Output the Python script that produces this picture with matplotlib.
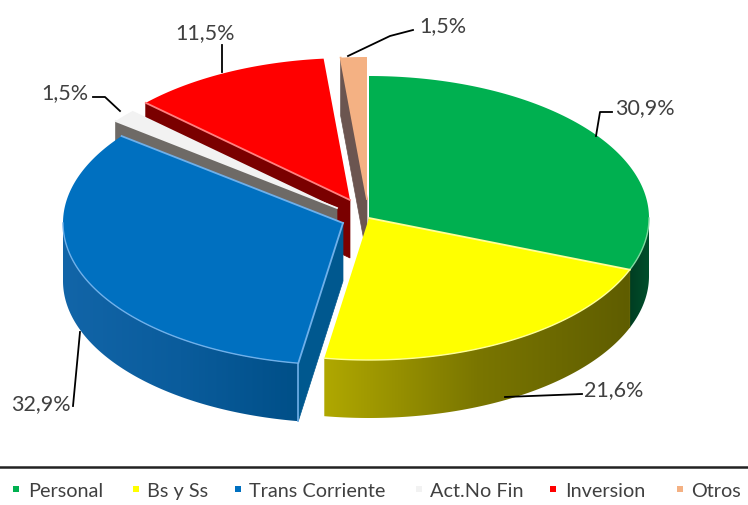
import numpy as np
import matplotlib
matplotlib.use("Agg")
import matplotlib.pyplot as plt
from matplotlib.colors import LinearSegmentedColormap
from matplotlib.patches import Polygon

categories = ["Personal", "Bs y Ss", "Trans Corriente", "Act.No Fin", "Inversion", "Otros"]
values = [30.9, 21.6, 32.9, 1.5, 11.5, 1.5]

top_colors = ["#00B050", "#FFFF00", "#0070C0", "#F2F2F2", "#FF0000", "#F4B183"]
edge_colors = ["#7FD8A0", "#FFFF99", "#6FB0EA", "#F2F2F2", "#FF8080", "#F4B183"]
wall_colors = ["#006030", "#6E6E00", "#00588F", "#6E6A66", "#7A0000", "#6B5550"]
side_colors = [["#003D22", "#00502C"], ["#B0A800", "#7A7600", "#5F5D00"],
               ["#1265A8", "#0A5C9C", "#004F88"], ["#6E6A66"] * 2, ["#7A0000"] * 2, ["#6B5550"] * 2]
offsets = [(0, 0), (0, 0), (-26, 5), (-32, -10), (-19, -18), (-2, -19)]
draw_order = [5, 4, 3, 0, 1, 2]

legend_marks = [16, 136, 238, 419, 553, 680]
legend_texts = [28, 147, 249, 430, 565, 691]

label_pos = [(645, 108), (614, 390), (41, 404), (65, 93), (205, 33), (443, 26)]
leaders = [[(596, 137), (600, 113), (612, 113)], [(505, 398), (582, 395)],
           [(73, 407), (80, 333)], [(93, 98), (105, 98), (120, 112)],
           [(222, 46), (222, 73)], [(348, 57), (390, 37), (413, 31)]]

cx, cy, rx, ry, depth = 369, 219, 280, 142, 58
text_color = "#404040"
plt.rcParams["font.family"] = ["Lato", "DejaVu Sans"]

fig = plt.figure(figsize=(7.48, 5.06), dpi=100)
ax = fig.add_axes([0, 0, 1, 1])

fracs = np.array(values) / sum(values)
ends = np.cumsum(fracs) * 360
starts = ends - fracs * 360


def rim(angle, off):
    a = np.radians(angle)
    return cx + off[0] + rx * np.sin(a), cy + off[1] - ry * np.cos(a)


z = 1
for i in draw_order:
    off = offsets[i]
    ax0, ay0 = cx + off[0], cy + off[1]
    sx, sy = rim(starts[i], off)
    edge = edge_colors[i]

    # cut face on the slice's starting edge
    ax.fill([ax0, sx, sx, ax0], [ay0, sy, sy + depth, ay0 + depth],
            color=wall_colors[i], lw=0.5, zorder=z)
    z += 1

    # outer wall, front half only, shaded left to right
    lo, hi = max(starts[i], 90), min(ends[i], 270)
    if hi > lo:
        cmap = LinearSegmentedColormap.from_list("side", side_colors[i])
        xs, ys = rim(np.linspace(lo, hi, 120), off)
        xa, xb = xs.min(), xs.max()
        img = ax.imshow(np.linspace(0, 1, 256)[None, :], cmap=cmap, aspect="auto",
                        extent=(xa, xb, ys.max() + depth + 2, ys.min() - 2), zorder=z)
        outline = Polygon(np.c_[np.r_[xs, xs[::-1]], np.r_[ys, ys[::-1] + depth]],
                          transform=ax.transData, fc="none", ec="none")
        ax.add_patch(outline)
        img.set_clip_path(outline)
        z += 1
        if starts[i] > 180:
            ax.plot([xs[0], xs[0]], [ys[0], ys[0] + depth], color=edge, lw=1.2, zorder=z)

    # top face
    angs = np.linspace(starts[i], ends[i], 120)
    xs, ys = rim(angs, off)
    ax.fill(np.r_[ax0, xs], np.r_[ay0, ys], facecolor=top_colors[i], lw=0, zorder=z)
    z += 1
    if starts[i] > 0:
        ax.plot([ax0, sx], [ay0, sy], color=edge, lw=1.3, zorder=z)
    if lo < hi:
        fx, fy = rim(np.linspace(lo, hi, 120), off)
        ax.plot(fx, fy, color=edge, lw=1.0, zorder=z)
    if starts[i] < 270 < ends[i]:  # only the blue slice shows its far edge lit
        ax.plot([ax0, xs[-1]], [ay0, ys[-1]], color=edge, lw=1.3, zorder=z)
    z += 1

for value, pos, line in zip(values, label_pos, leaders):
    ax.text(pos[0], pos[1], f"{value:.1f}%".replace(".", ","), fontsize=15.5,
            color=text_color, ha="center", va="center", zorder=z)
    ax.plot([p[0] for p in line], [p[1] for p in line], color="black", lw=1.3, zorder=z)

ax.plot([0, 748], [468, 468], color="#222222", lw=1.8, zorder=z)
for name, color, mx, tx in zip(categories, top_colors, legend_marks, legend_texts):
    ax.plot(mx, 490, marker="s", ms=4.6, color=color, mew=0, zorder=z)
    ax.text(tx, 491.5, name, fontsize=14.3, color=text_color, ha="left", va="center", zorder=z)

ax.set_xlim(0, 748)
ax.set_ylim(506, 0)
ax.axis("off")

fig.savefig("out.png", dpi=100)
plt.close(fig)
